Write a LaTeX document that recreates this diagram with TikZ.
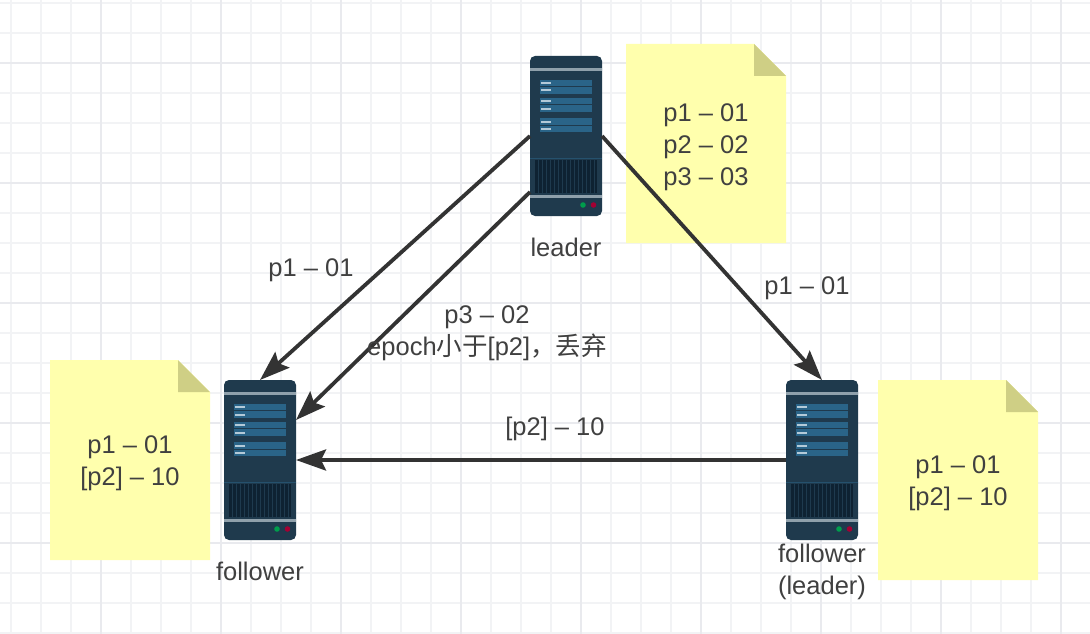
\documentclass[tikz,border=0pt]{standalone}
\usepackage{fontspec}
\setmainfont{Liberation Sans}
\newfontfamily\cjkf{Noto Sans CJK SC}
\usetikzlibrary{arrows.meta,calc}
\definecolor{gridminor}{HTML}{F2F3F5}
\definecolor{gridmajor}{HTML}{E9EAEE}
\definecolor{noteyellow}{HTML}{FFFFAD}
\definecolor{notefold}{HTML}{CFCF85}
\definecolor{srvbody}{HTML}{1F3A4D}
\definecolor{srvband}{HTML}{8FA0AB}
\definecolor{srvrow}{HTML}{2A6488}
\definecolor{srvdash}{HTML}{B4CAD8}
\definecolor{srvvent}{HTML}{0E2232}
\definecolor{srvstripe}{HTML}{1E3A4E}
\definecolor{inkdark}{HTML}{333333}
\definecolor{labelink}{HTML}{404040}
\tikzset{
  x=1pt,y=-1pt,
  serverbox/.style={rectangle,minimum width=72pt,minimum height=160pt,inner sep=0pt,outer sep=0pt,anchor=north west},
  linktext/.style={text=labelink,align=center,inner sep=0pt,font=\fontsize{25.5}{32}\selectfont},
  link/.style={draw=inkdark,line width=3.8pt,-{Stealth[length=30pt,width=21pt,inset=5pt]}},
}
\newcommand{\serverart}[1]{%
  \begin{scope}[shift={(#1.north west)}]
    \fill[srvbody,rounded corners=5pt] (0,0) rectangle (72,160);
    \fill[srvband] (0,12) rectangle (72,15);
    \foreach \yy in {27,34.5,45,52.5,65.5,73}{
      \fill[srvrow] (10,\yy-3.3) rectangle (62,\yy+3.3);
      \fill[srvdash] (11,\yy-1) rectangle (21,\yy+1);
    }
    \fill[srvrow!55!srvbody] (0,101.5) rectangle (72,102.5);
    \fill[srvvent] (5,104) rectangle (67,137);
    \foreach \xx in {8,12,...,64}{\fill[srvstripe] (\xx,104) rectangle (\xx+1,137);}
    \fill[srvband] (0,138.5) rectangle (72,142);
    \fill[green!45!black!70!cyan] (53,149) circle (2.8);
    \fill[red!55!black!80!magenta] (63.5,149) circle (2.8);
  \end{scope}}
\newcommand{\notepaper}[4]{%
  \fill[noteyellow] (#1,#2) -- (#1+#3-32,#2) -- (#1+#3,#2+32) -- (#1+#3,#2+#4) -- (#1,#2+#4) -- cycle;
  \fill[notefold] (#1+#3-32,#2) -- (#1+#3,#2+32) -- (#1+#3-32,#2+32) -- cycle;}
\begin{document}
\begin{tikzpicture}
\useasboundingbox (0,0) rectangle (1090,634);
\fill[white] (0,0) rectangle (1090,634);
% grid
\foreach \k in {0,...,36}{\draw[gridminor,line width=2pt] ({11+30*\k},0) -- ({11+30*\k},634);}
\foreach \k in {0,...,21}{\draw[gridminor,line width=2pt] (0,{3+30*\k}) -- (1090,{3+30*\k});}
\foreach \k in {0,...,8}{\draw[gridmajor,line width=2pt] ({101+120*\k},0) -- ({101+120*\k},634);}
\foreach \k in {0,...,4}{\draw[gridmajor,line width=2pt] (0,{63+120*\k}) -- (1090,{63+120*\k});}
% notes
\notepaper{626}{44}{160}{199}
\notepaper{50}{360}{160}{200}
\notepaper{878}{380}{160}{200}
% servers
\node[serverbox] (leader) at (530,56) {};
\node[serverbox] (fleft) at (224,380) {};
\node[serverbox] (fright) at (786,380) {};
\serverart{leader}
\serverart{fleft}
\serverart{fright}
% connection points
\coordinate (leaderlow) at ($(leader.north west)+(0,136)$);
\coordinate (fleftup) at ($(fleft.north east)+(0,40)$);
% connectors
\draw[link] (leader.west) -- (fleft.north);
\draw[link] (leaderlow) -- (fleftup);
\draw[link] (leader.east) -- (fright.north);
\draw[link] (fright.west) -- (fleft.east);
% note texts
\node[linktext] (notea) at (706,147) {p1 – 01\\p2 – 02\\p3 – 03};
\node[linktext] (noteb) at (130,463) {p1 – 01\\{[p2]} – 10};
\node[linktext] (notec) at (958,483) {p1 – 01\\{[p2]} – 10};
% labels
\node[linktext] (lleader) at (566,247) {leader};
\node[linktext] (lfleft) at (260,571) {follower};
\node[linktext] (lfright) at (822,572) {follower\\(leader)};
\node[linktext] (la) at (311,270) {p1 – 01};
\node[linktext] (lb) at (807,288) {p1 – 01};
\node[linktext] (lc) at (487,333) {p3 – 02\\epoch{\cjkf 小于}[p2]{\cjkf ，丢弃}};
\node[linktext] (ld) at (555,429) {[p2] – 10};
\end{tikzpicture}
\end{document}
